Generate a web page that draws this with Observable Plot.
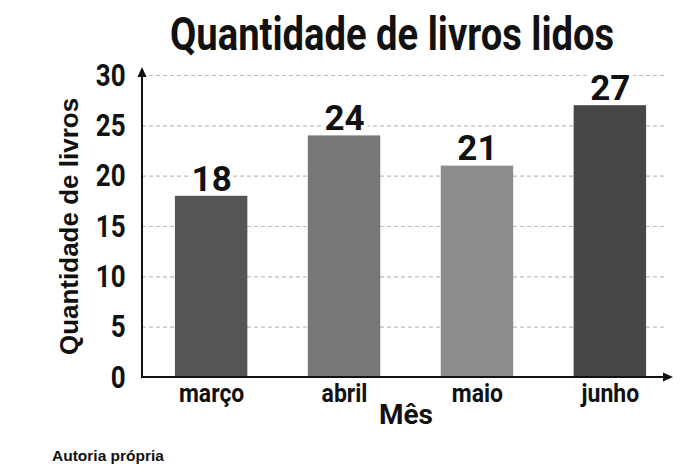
<!DOCTYPE html>
<html><head><meta charset="utf-8">
<script src="https://cdn.jsdelivr.net/npm/d3@7"></script>
<script src="https://cdn.jsdelivr.net/npm/@observablehq/plot@0.6"></script>
<style>
body{margin:0;background:#fff;width:696px;height:475px;overflow:hidden;}
#title{height:50px;position:relative;}
#title span{position:absolute;left:170px;top:0;line-height:58px;transform:translateY(5px) scaleX(0.83);transform-origin:0 50%;font-family:Roboto,'Liberation Sans',sans-serif;font-weight:bold;font-size:46px;color:#111;white-space:nowrap;}
#chart{height:388px;}
#caption{padding-left:52px;margin-top:9px;font-family:'Liberation Sans',Arial,sans-serif;font-weight:bold;font-size:15.5px;color:#111;}
</style></head><body>
<div id="title"><span></span></div>
<div id="chart"></div>
<div id="caption"></div>
<script>
const titulo = "Quantidade de livros lidos";
const rotuloY = "Quantidade de livros";
const rotuloX = "Mês";
const fonte = "Autoria própria";
const meses = ["março", "abril", "maio", "junho"];
const livros = [18, 24, 21, 27];
const cores = ["#555555", "#777777", "#8c8c8c", "#474747"];
const yTicks = [0, 5, 10, 15, 20, 25, 30];

const data = meses.map((m, i) => ({mes: m, livros: livros[i], cor: cores[i]}));
const FONT = "Roboto,'Liberation Sans',sans-serif";

document.querySelector("#title span").textContent = titulo;
document.getElementById("caption").textContent = fonte;

const plot = Plot.plot({
  width: 696, height: 388,
  marginLeft: 142, marginRight: 31, marginTop: 25, marginBottom: 61,
  style: {fontFamily: FONT, background: "white", color: "#111", overflow: "visible"},
  x: {domain: meses, paddingInner: 0.455, paddingOuter: 0.195, align: 0.635, round: false, label: null},
  y: {domain: [0, 30], ticks: yTicks, label: null},
  color: {type: "identity"},
  marks: [
    Plot.gridY(yTicks.filter(d => d > 0), {stroke: "#bdbdbd", strokeOpacity: 1, strokeDasharray: "4,3", strokeWidth: 1.2}),
    Plot.barY(data, {x: "mes", y: "livros", fill: "cor"}),
    Plot.axisY(yTicks, {tickSize: 0, tickPadding: 17, fontSize: 32, fontWeight: "bold", label: null}),
    Plot.axisX({tickSize: 0, tickPadding: 7, fontSize: 25, fontWeight: "bold", label: null}),
    Plot.text(data, {x: "mes", y: "livros", text: d => String(d.livros), dy: -17, fontSize: 35, fontWeight: "bold", fill: "#111", stroke: "white", strokeWidth: 8, ariaLabel: "valores"}),
    Plot.text([rotuloY], {frameAnchor: "left", textAnchor: "middle", rotate: -90, dx: -73, fontSize: 26, fontWeight: "bold", fill: "#111", fontFamily: "'Liberation Sans',Arial,sans-serif", ariaLabel: "rotuloY"}),
    Plot.text([rotuloX], {frameAnchor: "bottom", textAnchor: "middle", dx: 2, dy: 46, fontSize: 28, fontWeight: "bold", fill: "#111", ariaLabel: "rotuloX"})
  ]
});

const svg = d3.select(plot);

// horizontally condense the narrow-style labels around their anchors
function condense(label, s) {
  svg.selectAll(`g[aria-label="${label}"] text`).each(function() {
    const t = this.getAttribute("transform") || "";
    this.setAttribute("transform", (t + ` scale(${s},1)`).trim());
    const x = this.getAttribute("x");
    if (x != null && x !== "" && !isNaN(+x)) this.setAttribute("x", +x / s);
  });
}
condense("y-axis tick label", 0.81);
condense("x-axis tick label", 0.92);
condense("valores", 0.77);
condense("rotuloX", 0.88);

// axis lines with arrowheads, positioned through the plot's scales
const sx = plot.scale("x"), sy = plot.scale("y");
const xl = sx.range[0], xr = sx.range[1];
const y0 = sy.apply(0), yTop = sy.apply(30);
const g = svg.append("g").attr("stroke", "#111").attr("fill", "#111");
g.append("line").attr("x1", xl).attr("x2", xl).attr("y1", y0 + 1).attr("y2", yTop - 2).attr("stroke-width", 2);
g.append("path").attr("d", `M${xl},${yTop - 8} L${xl - 4.5},${yTop + 2} L${xl + 4.5},${yTop + 2} Z`).attr("stroke", "none");
g.append("line").attr("x1", xl - 1).attr("x2", xr + 2).attr("y1", y0).attr("y2", y0).attr("stroke-width", 2);
g.append("path").attr("d", `M${xr + 8},${y0} L${xr - 2},${y0 - 4.5} L${xr - 2},${y0 + 4.5} Z`).attr("stroke", "none");

document.getElementById("chart").appendChild(plot);
</script>
</body></html>
